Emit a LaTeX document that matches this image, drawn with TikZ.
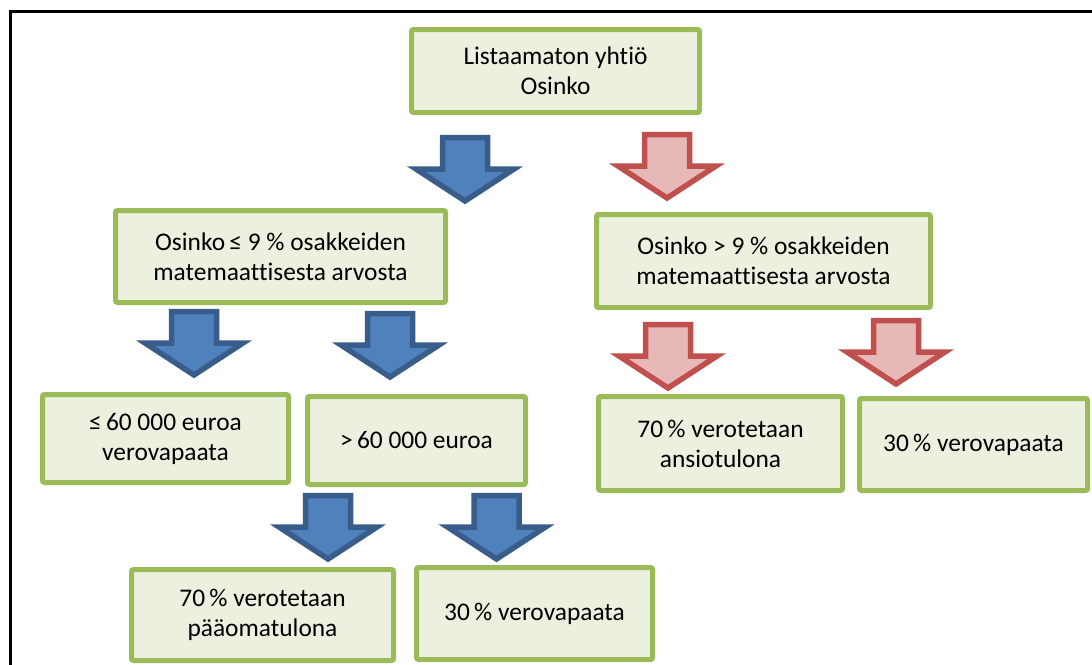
\documentclass[tikz,border=0pt]{standalone}
\usepackage{fontspec}
\setmainfont{Carlito}[Ligatures=NoCommon]
\definecolor{boxline}{HTML}{9BBB59}
\definecolor{boxfill}{HTML}{EBF1DE}
\definecolor{blueline}{HTML}{385D8A}
\definecolor{bluefill}{HTML}{4F81BD}
\definecolor{redline}{HTML}{C0504D}
\definecolor{redfill}{HTML}{E6B9B8}
\tikzset{
  infobox/.style={draw=boxline, fill=boxfill, line width=5pt, rounded corners=2pt,
    align=center, inner sep=0pt, font=\fontsize{25.4}{30}\selectfont},
  bluearrow/.style={draw=blueline, fill=bluefill, line width=5.5pt, line join=miter},
  redarrow/.style={draw=redline, fill=redfill, line width=5.5pt, line join=miter},
  blockarrow/.pic={\path[pic actions] (-22.5,2.5) -- (-22.5,34) -- (-49,34) -- (0,66)
      -- (49,34) -- (22.5,34) -- (22.5,2.5) -- cycle;}
}
\begin{document}
\begin{tikzpicture}[x=1pt,y=-1pt]
\useasboundingbox (0,0) rectangle (1092,664);
\fill[white] (0,0) rectangle (1092,664);
\draw[line width=3pt] (1093,11) -- (10,11) -- (10,665);

\node[infobox, minimum width=288pt, minimum height=83pt] (top) at (555.5,71) {Listaamaton yhtiö\\Osinko};
\node[infobox, minimum width=330pt, minimum height=92pt] (la) at (280.5,256.5) {Osinko\,≤ 9 \% osakkeiden\\matemaattisesta arvosta};
\node[infobox, minimum width=334pt, minimum height=93pt] (ra) at (763.5,261) {Osinko > 9 \% osakkeiden\\matemaattisesta arvosta};
\node[infobox, minimum width=246pt, minimum height=88pt] (lla) at (165.5,438.5) {≤\,60 000 euroa\\verovapaata};
\node[infobox, minimum width=218pt, minimum height=88pt] (llb) at (416.5,440.5) {>\,60 000 euroa};
\node[infobox, minimum width=244pt, minimum height=94pt] (rra) at (720.5,443.5) {70\,\% verotetaan\\ansiotulona};
\node[infobox, minimum width=228pt, minimum height=92pt] (rrb) at (973.5,444.5) {30\,\% verovapaata};
\node[infobox, minimum width=262pt, minimum height=91pt] (pa) at (262.5,615) {70\,\% verotetaan\\pääomatulona};
\node[infobox, minimum width=236pt, minimum height=92pt] (pb) at (534.5,613.5) {30\,\% verovapaata};

\pic[bluearrow] at (465,135) {blockarrow};
\pic[redarrow] at (667,132) {blockarrow};
\pic[bluearrow] at (194,309) {blockarrow};
\pic[bluearrow] at (390,311) {blockarrow};
\pic[redarrow] at (668,322) {blockarrow};
\pic[redarrow] at (896,318) {blockarrow};
\pic[bluearrow] at (328,493) {blockarrow};
\pic[bluearrow] at (496.5,493) {blockarrow};
\end{tikzpicture}
\end{document}
